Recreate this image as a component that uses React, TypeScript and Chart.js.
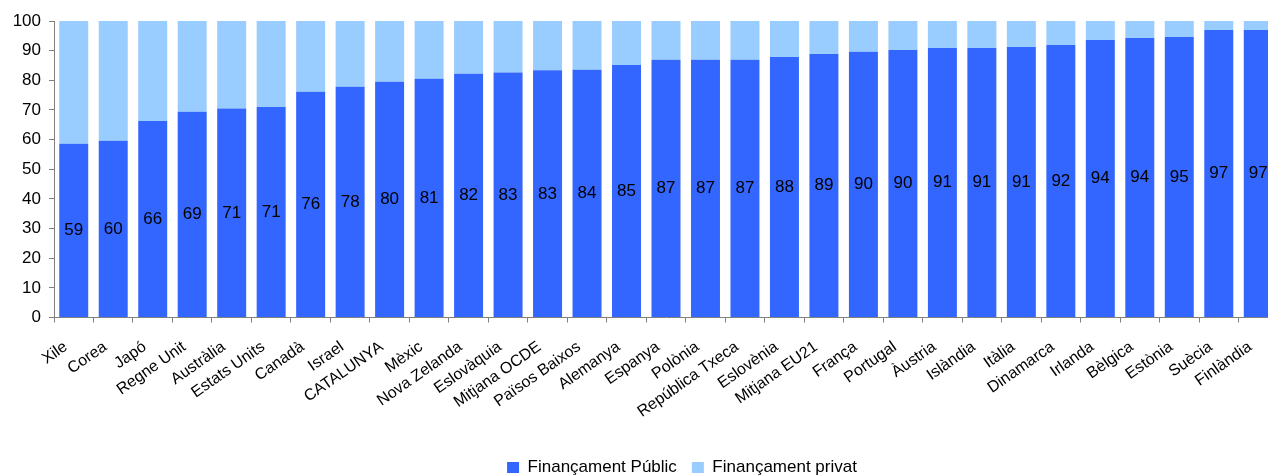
import React, { useEffect, useRef } from "react";
import { Chart, registerables } from "chart.js";

Chart.register(...registerables);

const categories: string[] = [
  "Xile", "Corea", "Japó", "Regne Unit", "Austràlia", "Estats Units", "Canadà", "Israel",
  "CATALUNYA", "Mèxic", "Nova Zelanda", "Eslovàquia", "Mitjana OCDE", "Països Baixos",
  "Alemanya", "Espanya", "Polònia", "República Txeca", "Eslovènia", "Mitjana EU21", "França",
  "Portugal", "Àustria", "Islàndia", "Itàlia", "Dinamarca", "Irlanda", "Bèlgica", "Estònia",
  "Suècia", "Finlàndia",
];

const publicValues: number[] = [
  58.6, 59.6, 66.3, 69.4, 70.5, 71.0, 76.1, 77.8, 79.5, 80.5, 82.2, 82.6, 83.4, 83.6,
  85.2, 86.9, 86.9, 86.9, 87.9, 88.9, 89.6, 90.2, 90.9, 90.9, 91.2, 91.9, 93.6, 94.3,
  94.6, 97.0, 97.0,
];

const privateValues: number[] = publicValues.map((v) => +(100 - v).toFixed(1));

const yTicks: number[] = [0, 10, 20, 30, 40, 50, 60, 70, 80, 90, 100];

const seriesNames: string[] = ["Finançament Públic", "Finançament privat"];

const FONT = "'Liberation Sans', Arial, sans-serif";

const dataLabelPlugin = {
  id: "dataLabels",
  afterDatasetsDraw(chart: any) {
    const ctx = chart.ctx;
    const meta = chart.getDatasetMeta(0);
    const yScale = chart.scales.y;
    ctx.save();
    ctx.font = `17px ${FONT}`;
    ctx.fillStyle = "#000000";
    ctx.textAlign = "center";
    ctx.textBaseline = "middle";
    meta.data.forEach((bar: any, i: number) => {
      const v = publicValues[i];
      const y = yScale.getPixelForValue(v / 2);
      ctx.fillText(String(Math.round(v)), bar.x, y);
    });
    ctx.restore();
  },
};

const legendShiftPlugin = {
  id: "legendShift",
  afterLayout(chart: any) {
    const lg = chart.legend;
    if (!lg) return;
    lg.left += 43;
    lg.right += 43;
    lg.top += 11;
    lg.bottom += 11;
  },
};

export default function App() {
  const canvasRef = useRef<HTMLCanvasElement | null>(null);

  useEffect(() => {
    if (!canvasRef.current) return;
    const chart = new Chart(canvasRef.current, {
      type: "bar",
      data: {
        labels: categories,
        datasets: [
          {
            label: seriesNames[0],
            data: publicValues,
            backgroundColor: "#3366FF",
            borderWidth: 0,
            barPercentage: 0.734,
            categoryPercentage: 1,
          },
          {
            label: seriesNames[1],
            data: privateValues,
            backgroundColor: "#99CCFF",
            borderWidth: 0,
            barPercentage: 0.734,
            categoryPercentage: 1,
          },
        ],
      },
      options: {
        animation: false,
        responsive: false,
        maintainAspectRatio: false,
        layout: { padding: { top: 21, left: 0, right: 12, bottom: 0 } },
        plugins: {
          tooltip: { enabled: false },
          legend: {
            position: "bottom",
            labels: {
              boxWidth: 12,
              boxHeight: 11,
              padding: 15,
              color: "#000000",
              font: { family: FONT, size: 17 },
            },
          },
        },
        scales: {
          x: {
            stacked: true,
            clip: false,
            grid: {
              offset: true,
              drawOnChartArea: false,
              drawTicks: true,
              tickLength: 5,
              color: "#808080",
            },
            border: { display: true, color: "#808080", width: 1 },
            ticks: {
              autoSkip: false,
              maxRotation: 35,
              minRotation: 35,
              color: "#000000",
              padding: 15,
              labelOffset: -8,
              font: { family: FONT, size: 16 },
            },
            afterFit(scale: any) {
              scale.height = 115.5;
            },
          },
          y: {
            stacked: true,
            min: 0,
            max: 100,
            afterBuildTicks(scale: any) {
              scale.ticks = yTicks.map((v) => ({ value: v }));
            },
            grid: {
              drawOnChartArea: false,
              drawTicks: true,
              tickLength: 5,
              color: "#808080",
            },
            border: { display: true, color: "#808080", width: 1 },
            ticks: {
              color: "#000000",
              padding: 8,
              font: { family: FONT, size: 17 },
            },
            afterFit(scale: any) {
              scale.width = 54;
            },
          },
        },
      },
      plugins: [dataLabelPlugin, legendShiftPlugin],
    });
    return () => chart.destroy();
  }, []);

  return (
    <div
      style={{
        position: "fixed",
        left: 0,
        top: 0,
        width: 1268,
        height: 475,
        overflow: "hidden",
        background: "#ffffff",
      }}
    >
      <canvas ref={canvasRef} width={1290} height={475} style={{ display: "block" }} />
    </div>
  );
}
